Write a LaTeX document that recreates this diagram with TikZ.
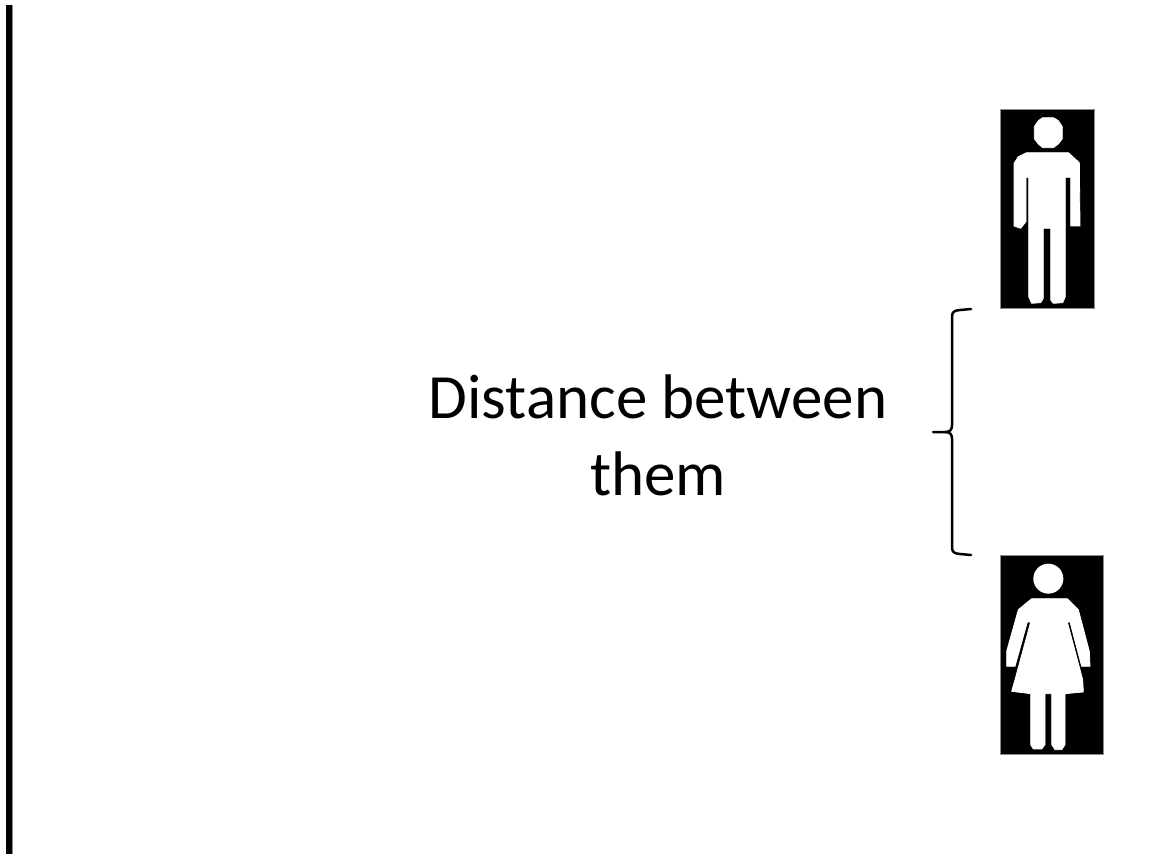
\documentclass[tikz,border=0pt]{standalone}
\usepackage{fontspec}
\setmainfont{Carlito}
\tikzset{
  figbox/.style={fill=black,draw=black!45,line width=0.5pt},
  figure/.style={fill=white,draw=white,line width=0.8pt,line join=round},
  brace/.style={draw=black,line width=2.5pt,line cap=round,line join=round},
  bar/.style={fill=black,draw=none},
  label/.style={align=center,inner sep=0pt,font=\fontsize{63}{77}\selectfont}
}
\begin{document}
\begin{tikzpicture}[x=1pt,y=-1pt]
\useasboundingbox (0,0) rectangle (1151,854);
\fill[white] (0,0) rectangle (1151,854);
% left wall
\fill[bar] (6,5) rectangle (12,854);
\fill[black!45] (12,5) rectangle (12.6,854);
% man
\begin{scope}[shift={(990,100)},x=0.3333pt,y=-0.3333pt]
\draw[figbox] (30,27) rectangle (312,625);
\filldraw[figure] (158,53) -- (190,53) -- (205,62) -- (217,80) -- (217,116) -- (205,132) -- (190,143) -- (158,143) -- (145,132) -- (133,116) -- (133,80) -- (145,62) -- cycle;
\filldraw[figure] (110,158) -- (235,158) -- (268,188) -- (270,378) -- (242,378) -- (242,232) -- (226,232) -- (226,590) -- (218,608) -- (190,610) -- (182,600) -- (182,385) -- (160,385) -- (160,595) -- (152,608) -- (125,610) -- (116,590) -- (116,232) -- (108,232) -- (108,365) -- (92,385) -- (72,378) -- (72,190) -- (85,170) -- cycle;
\end{scope}
% woman
\begin{scope}[shift={(990,548)},x=0.3333pt,y=-0.3333pt]
\draw[figbox] (30,22) rectangle (340,618);
\fill[white] (175,92) circle[x radius=15pt,y radius=-15pt];
\filldraw[figure] (125,152) -- (232,152) -- (265,185) -- (298,310) -- (300,355) -- (275,355) -- (240,222) -- (232,222) -- (278,395) -- (280,432) -- (225,437) -- (225,590) -- (215,605) -- (195,605) -- (185,590) -- (185,437) -- (165,437) -- (165,590) -- (155,603) -- (130,603) -- (122,590) -- (122,437) -- (65,430) -- (75,395) -- (122,222) -- (112,222) -- (75,355) -- (50,355) -- (50,310) -- (85,185) -- cycle;
\end{scope}
% brace
\coordinate (bt) at (971,309);
\coordinate (bm) at (933,432);
\coordinate (bb) at (971,555);
\draw[brace] (bt) -- (960,310) .. controls (954,310.5) and (952,312) .. (952,317) -- (952,425) .. controls (952,430) and (950,432) .. (945,432) -- (bm);
\draw[brace] (945,432) .. controls (950,432) and (952,434) .. (952,439) -- (952,547) .. controls (952,552) and (954,553.5) .. (960,554) -- (bb);
% label
\node[label] (dist) at (658,435) {Distance between\\them};
\end{tikzpicture}
\end{document}
